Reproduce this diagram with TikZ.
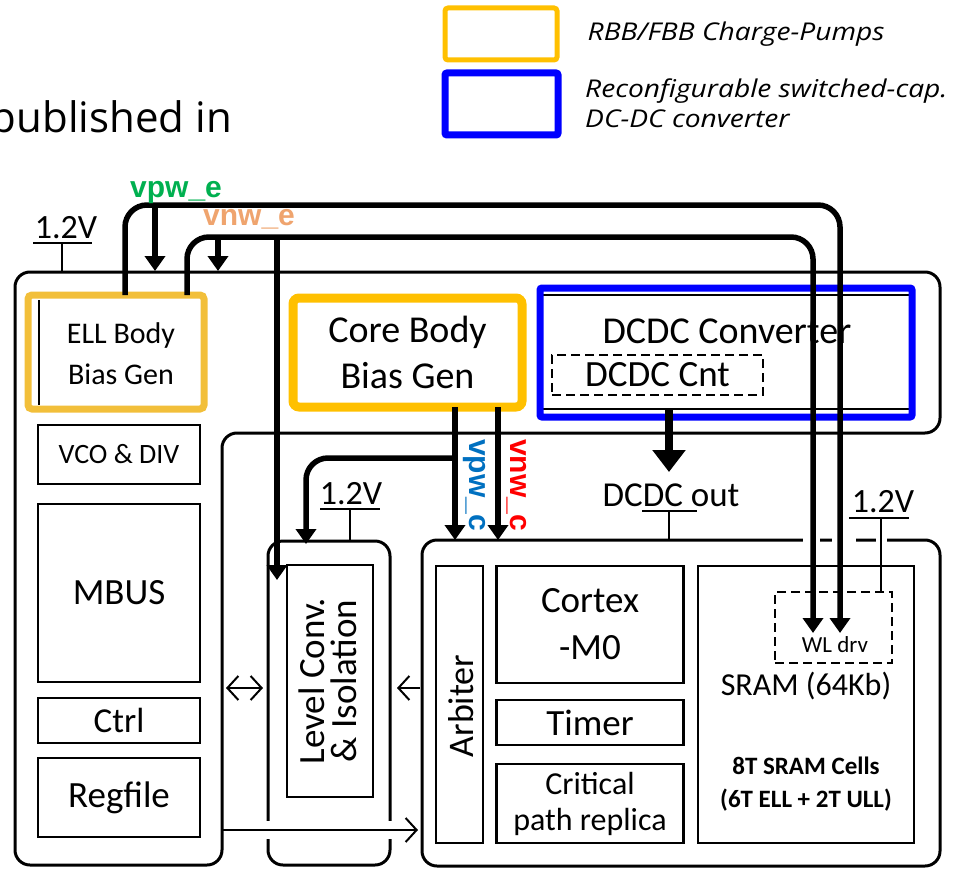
\documentclass[tikz,border=0pt]{standalone}
\usepackage{fontspec}
\setmainfont{Carlito}
\newfontfamily\legfont{Open Sans}
\newfontfamily\legifont[FakeStretch=1.15]{Open Sans}
\newfontfamily\sigfont{Liberation Sans}
\usetikzlibrary{arrows.meta}
\definecolor{cpY}{HTML}{FFC000}
\definecolor{ellY}{HTML}{F2BF3A}
\definecolor{dcB}{HTML}{0000FF}
\definecolor{gE}{HTML}{00B050}
\definecolor{oE}{HTML}{EFA46E}
\definecolor{bC}{HTML}{0070C0}
\definecolor{rC}{HTML}{FF0000}
\newcommand\myfs[2]{\fontsize{#1}{#2}\selectfont}
\begin{document}
\begin{tikzpicture}[x=1pt,y=-1pt,
  blk/.style={draw, line width=2.6pt, inner sep=0pt, outer sep=0pt, align=center},
  rndbox/.style={draw, line width=3pt, rounded corners=15pt, inner sep=0pt, outer sep=0pt},
  dashbox/.style={draw, line width=2pt, dash pattern=on 9pt off 5pt, inner sep=0pt, outer sep=0pt, align=center},
  txt/.style={inner sep=0pt, align=center},
  sig/.style={line width=5.5pt, rounded corners=22pt},
  stip/.style={-{Triangle[width=20pt,length=15pt]}},
  thinln/.style={line width=1.6pt},
  barln/.style={line width=2pt},
  openarr/.style={line width=2pt, >={Straight Barb[length=11pt,width=24pt]}}
]
\useasboundingbox (0,0) rectangle (965,869);

% ---------- header and legend ----------
\node[anchor=base east, inner sep=0pt, font=\legfont\myfs{42}{42}] (pub) at (232,133) {published in};
\node[draw=cpY, line width=5pt, rounded corners=3pt, minimum width=112pt, minimum height=52pt, inner sep=0pt] (legY) at (501,34) {};
\node[anchor=west, inner sep=0pt, font=\legifont\itshape\myfs{24.5}{30}] (legYt) at ([xshift=28pt]legY.east) {RBB/FBB Charge-Pumps};
\node[draw=dcB, line width=7pt, rounded corners=2pt, minimum width=113pt, minimum height=62pt, inner sep=0pt] (legB) at (501.5,104) {};
\node[anchor=west, inner sep=0pt, align=left, font=\legifont\itshape\myfs{24.5}{30}] (legBt) at (585,103) {Reconfigurable switched-cap.\\DC-DC converter};

% ---------- outer frames ----------
\draw[rndbox] (15,272) -- (940,272) -- (940,433) -- (222,433) -- (222,865) -- (15,865) -- cycle;
\node[rndbox, minimum width=122pt, minimum height=324pt] (lvo) at (329,703) {};
\node[rndbox, minimum width=518pt, minimum height=326pt] (coreo) at (681,703) {};

% gaps in frames
\fill[white] (262,821) rectangle (275,839);
\fill[white] (383,821) rectangle (396,839);
\fill[white] (803,536) rectangle (820,545);
\fill[white] (832,536) rectangle (856,545);
\fill[white] (876,536) rectangle (887,545);

% ---------- left column ----------
\node[draw=ellY, line width=7pt, rounded corners=4pt, minimum width=176pt, minimum height=114pt, inner sep=0pt, outer sep=0pt] (ell) at (116,352) {};
\draw[line width=2pt] (39,300) -- (39,405);
\node[txt, font=\myfs{30}{41}] (ellt) at (121,354) {ELL Body\\Bias Gen};
\node[blk, minimum width=162pt, minimum height=59pt, font=\myfs{28}{28}] (vco) at (119,454.5) {VCO \& DIV};
\node[blk, minimum width=162pt, minimum height=178pt, font=\myfs{37}{37}] (mbus) at (119,593) {MBUS};
\node[blk, minimum width=162pt, minimum height=45pt, font=\myfs{35}{35}] (ctrl) at (119,720.5) {Ctrl};
\node[blk, minimum width=162pt, minimum height=79pt, font=\myfs{37}{37}] (regf) at (119,797.5) {Regfile};

% ---------- level conversion ----------
\node[blk, minimum width=86pt, minimum height=232pt] (lvi) at (330,681) {};
\node[txt, rotate=90, font=\myfs{37}{32}] (lvit) at (328,681) {Level Conv.\\\& Isolation};

% ---------- core region ----------
\node[blk, minimum width=47pt, minimum height=277pt] (arb) at (459.5,704.5) {};
\node[txt, rotate=90, font=\myfs{36}{36}] (arbt) at (461,706) {Arbiter};
\node[blk, minimum width=187pt, minimum height=117pt, font=\myfs{37}{47}] (cortex) at (590,624.5) {Cortex\\-M0};
\node[blk, minimum width=187pt, minimum height=45pt, font=\myfs{37}{37}] (timer) at (590,722.5) {Timer};
\node[blk, minimum width=187pt, minimum height=79pt, font=\myfs{32}{36}] (crit) at (590,803.5) {Critical\\path replica};
\node[blk, minimum width=216pt, minimum height=277pt] (sram) at (806,704.5) {};
\node[dashbox, minimum width=117pt, minimum height=71pt] (wl) at (833.5,627.5) {};
\node[txt, font=\myfs{23}{23}] (wlt) at (835,645) {WL drv};
\node[txt, font=\myfs{32}{32}] (sramt) at (806,686) {SRAM (64Kb)};
\node[txt, font=\bfseries\myfs{25}{33}] (cellt) at (806,784) {8T SRAM Cells\\(6T ELL + 2T ULL)};

% ---------- body bias gen and DCDC ----------
\node[draw=cpY, line width=9pt, rounded corners=6pt, minimum width=229pt, minimum height=109pt, inner sep=0pt, outer sep=0pt, align=center, font=\myfs{38}{46}] (cbb) at (407.5,352.5) {Core Body\\Bias Gen};
\node[blk, minimum width=369pt, minimum height=114pt] (dcdc) at (725.5,352) {};
\draw[dcB, line width=7pt, rounded corners=2pt] (540,288) rectangle (912,417);
\node[txt, font=\myfs{38}{38}] (dcdct) at (727,331) {DCDC Converter};
\node[dashbox, minimum width=211pt, minimum height=40pt, font=\myfs{37}{37}] (dcnt) at (657.5,375) {DCDC Cnt};

% ---------- supply labels ----------
\node[txt, font=\myfs{34}{34}] (v1) at (66,228) {1.2V};
\draw[barln] (33,243) -- (92,243);
\draw[thinln] (62,243) -- (62,272);
\node[txt, font=\myfs{34}{34}] (v2) at (351,494) {1.2V};
\draw[barln] (320,509) -- (380,509);
\draw[thinln] (350,509) -- ([xshift=21pt]lvo.north);
\node[txt, font=\myfs{35}{35}] (dout) at (671,495) {DCDC out};
\draw[barln] (642,511) -- (697,511);
\draw[thinln] (669,511) -- ([xshift=-12pt]coreo.north);
\node[txt, font=\myfs{34}{34}] (v3) at (883,502) {1.2V};
\draw[barln] (849,518) -- (909,518);
\draw[thinln] (881,518) -- ([xshift=47.5pt]wl.north);

% ---------- signals ----------
\coordinate (jpe) at (155,205);
\coordinate (jne) at (218,237);
\coordinate (jle) at (277,237);
\draw[sig, stip] ([xshift=9pt]ell.north) |- (840,205) -- ([xshift=6.5pt,yshift=-5.5pt]wl.center);
\draw[sig, stip] ([xshift=71pt]ell.north) |- (813,237) -- ([xshift=-20.5pt,yshift=-5.5pt]wl.center);
\draw[sig, stip] (jpe) -- (155,271);
\draw[sig, stip] (jne) -- (218,271);
\draw[sig, stip] (jle) -- ([xshift=-10pt,yshift=-15pt]lvi.north west);
\draw[sig, stip] ([xshift=47.5pt]cbb.south) -- ([xshift=-226pt]coreo.north);
\draw[sig, stip] ([xshift=90.5pt]cbb.south) -- ([xshift=-183pt]coreo.north);
\draw[sig, stip] (455,458) -| ([xshift=-23pt,yshift=-3pt]lvo.north);
\draw[line width=8pt, -{Triangle[width=32pt,length=22pt]}] ([xshift=-56.5pt]dcdc.south) -- (669,472);

\node[anchor=base west, inner sep=0pt, text=gE, font=\sigfont\bfseries\myfs{30}{30}] (lpe) at (130,197) {vpw\_e};
\node[anchor=base west, inner sep=0pt, text=oE, font=\sigfont\bfseries\myfs{30}{30}] (lne) at (203,225) {vnw\_e};
\node[txt, rotate=-90, text=bC, font=\sigfont\bfseries\myfs{30}{30}] (lpc) at (474,485) {vpw\_c};
\node[txt, rotate=-90, text=rC, font=\sigfont\bfseries\myfs{30}{30}] (lnc) at (517,485) {vnw\_c};

% ---------- data arrows ----------
\draw[openarr, <->] ([xshift=-42pt,yshift=15pt]lvo.west) -- ([xshift=-5pt,yshift=15pt]lvo.west);
\draw[openarr, ->] ([xshift=-2pt,yshift=15pt]coreo.west) -- ([xshift=7pt,yshift=15pt]lvo.east);
\draw[openarr, ->] ([xshift=23pt,yshift=-32.5pt]regf.east) -- ([xshift=-4pt,yshift=-127pt]coreo.west);
\end{tikzpicture}
\end{document}
